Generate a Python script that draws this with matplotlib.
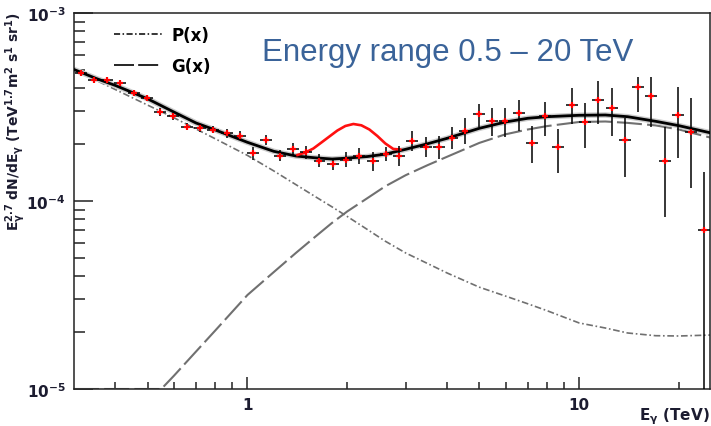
import numpy as np
import matplotlib.pyplot as plt
from matplotlib.lines import Line2D
from matplotlib.ticker import NullFormatter

plt.rcParams['font.family'] = 'DejaVu Sans'
plt.rcParams['mathtext.fontset'] = 'dejavusans'

# flux values are in units of 1e-4 TeV^1.7 m^-2 s^-1 sr^-1
UNIT = 1e-4

# measured spectrum points
energy = [0.314, 0.344, 0.378, 0.414, 0.454, 0.498, 0.546, 0.598, 0.656, 0.720,
          0.789, 0.865, 0.949, 1.040, 1.141, 1.251, 1.371, 1.504, 1.649, 1.808,
          1.982, 2.174, 2.383, 2.613, 2.866, 3.142, 3.445, 3.778, 4.143, 4.542,
          4.981, 5.461, 5.988, 6.566, 7.200, 7.895, 8.657, 9.493, 10.41, 11.41,
          12.52, 13.72, 15.05, 16.50, 18.09, 19.84, 21.75, 23.85]
flux = [4.78, 4.39, 4.38, 4.23, 3.74, 3.55, 2.96, 2.82, 2.49, 2.45,
        2.40, 2.30, 2.23, 1.79, 2.11, 1.74, 1.89, 1.82, 1.64, 1.57,
        1.66, 1.74, 1.63, 1.78, 1.74, 2.09, 1.94, 1.93, 2.16, 2.37,
        2.89, 2.67, 2.66, 2.93, 2.03, 2.83, 1.93, 3.26, 2.63, 3.43,
        3.12, 2.10, 4.04, 3.64, 1.64, 2.87, 2.34, 0.70]
flux_lo = [4.64, 4.26, 4.25, 4.10, 3.63, 3.44, 2.82, 2.70, 2.39, 2.33,
           2.29, 2.17, 2.10, 1.66, 1.98, 1.63, 1.76, 1.68, 1.51, 1.46,
           1.51, 1.58, 1.45, 1.63, 1.54, 1.85, 1.72, 1.68, 1.89, 2.02,
           2.48, 2.22, 2.19, 2.35, 1.59, 2.22, 1.41, 2.57, 1.91, 2.56,
           2.21, 1.34, 2.98, 2.48, 0.826, 1.70, 1.17, 0.01]
flux_hi = [4.93, 4.53, 4.52, 4.36, 3.86, 3.66, 3.11, 2.94, 2.60, 2.57,
           2.52, 2.43, 2.37, 1.93, 2.25, 1.86, 2.03, 1.97, 1.77, 1.69,
           1.82, 1.92, 1.83, 1.94, 1.97, 2.36, 2.20, 2.22, 2.48, 2.78,
           3.28, 3.13, 3.12, 3.44, 2.50, 3.36, 2.42, 3.99, 3.32, 4.33,
           3.99, 2.75, 4.57, 4.56, 2.49, 4.05, 3.52, 1.43]

# fitted components
curve_e = [0.3, 0.35, 0.4, 0.5, 0.6, 0.7, 0.8, 1.0, 1.2, 1.4, 1.6, 1.8, 2.0, 2.3,
           2.6, 3.0, 3.5, 4.0, 5.0, 6.0, 7.0, 8.0, 10.0, 12.0, 14.0, 17.0, 20.0, 25.0]
total_fit = [5.006, 4.483, 4.116, 3.497, 2.974, 2.599, 2.387, 2.052, 1.838, 1.735,
             1.697, 1.672, 1.691, 1.724, 1.774, 1.884, 2.018, 2.155, 2.436, 2.632,
             2.754, 2.808, 2.857, 2.867, 2.808, 2.654, 2.515, 2.300]
p_fit = [4.993, 4.380, 3.914, 3.237, 2.774, 2.415, 2.142, 1.748, 1.446, 1.222,
         1.056, 0.930, 0.827, 0.705, 0.612, 0.529, 0.464, 0.414, 0.348, 0.312,
         0.284, 0.261, 0.2245, 0.211, 0.1986, 0.1921, 0.1914, 0.1937]

g_e = [0.3, 0.4, 0.5, 0.55, 0.6, 0.7, 0.8, 1.0, 1.2, 1.4, 1.6, 1.8, 2.0, 2.3,
       2.6, 3.0, 3.5, 4.0, 5.0, 6.0, 7.0, 8.0, 10.0, 12.0, 14.0, 17.0, 20.0, 25.0]
g_fit = [0.1, 0.1, 0.1, 0.1, 0.1175, 0.1583, 0.2048, 0.3162, 0.4184, 0.5295,
         0.645, 0.7656, 0.8805, 1.036, 1.196, 1.372, 1.554, 1.72, 2.037, 2.264,
         2.401, 2.503, 2.632, 2.648, 2.603, 2.524, 2.401, 2.169]

# fit with an extra line feature near 2 TeV
bump_e = [1.415, 1.495, 1.580, 1.671, 1.766, 1.867, 1.973, 2.086, 2.205, 2.331,
          2.464, 2.604, 2.753, 2.889]
bump_fit = [1.757, 1.811, 1.902, 2.047, 2.203, 2.371, 2.506, 2.568, 2.527, 2.401,
            2.217, 2.023, 1.891, 1.879]

e = np.array(energy)
f = np.array(flux) * UNIT
f_lo = np.array(flux_lo) * UNIT
f_hi = np.array(flux_hi) * UNIT
half_bin = 0.018  # decades
xerr = [e * (1 - 10 ** -half_bin), e * (10 ** half_bin - 1)]

fig = plt.figure(figsize=(7.11, 4.27), dpi=100)
ax = fig.add_axes([74 / 711, 1 - 390 / 427, 636 / 711, 376 / 427])
ax.set_xscale('log')
ax.set_yscale('log')

ax.plot(curve_e, np.array(p_fit) * UNIT, color='#707070', lw=1.2,
        linestyle=(0, (4, 1.6, 1, 1.6)), zorder=2)
ax.plot(g_e, np.array(g_fit) * UNIT, color='#707070', lw=1.5,
        linestyle=(0, (12, 2.5)), zorder=2)
ax.plot(curve_e, np.array(total_fit) * UNIT, color='#cccccc', lw=4.0, zorder=2)
ax.plot(curve_e, np.array(total_fit) * UNIT, color='black', lw=2.0, zorder=3)
ax.plot(bump_e, np.array(bump_fit) * UNIT, color='#ff1010', lw=1.9, zorder=3)

ax.errorbar(e, f, yerr=[f - f_lo, f_hi - f], xerr=xerr, fmt='none',
            ecolor='black', elinewidth=1.1, capsize=0, zorder=4)
ax.plot(e, f, '+', color='red', ms=5, mew=1.6, zorder=5)

ax.set_xlim(0.3, 24.8)
ax.set_ylim(1e-5, 1e-3)

label_color = '#1c1c30'
tick_color = '#222222'
ax.set_xticks([1, 10])
ax.set_xticklabels(['1', '10'], fontsize=11, fontweight='bold', color=label_color)
ax.set_xticks([0.4, 0.5, 0.6, 0.7, 0.8, 0.9, 2, 3, 4, 5, 6, 7, 8, 9, 20], minor=True)
ax.xaxis.set_minor_formatter(NullFormatter())
ax.set_yticks([1e-5, 1e-4, 1e-3])
ax.set_yticklabels([r'$\mathbf{10^{-5}}$', r'$\mathbf{10^{-4}}$', r'$\mathbf{10^{-3}}$'],
                   fontsize=11, color=label_color)
ax.set_yticks([k * 10.0 ** p for p in (-5, -4) for k in range(2, 10)], minor=True)
ax.yaxis.set_minor_formatter(NullFormatter())

ax.tick_params(axis='x', which='major', direction='in', length=8.5, width=1.1, pad=6,
               color=tick_color)
ax.tick_params(axis='x', which='minor', direction='in', length=5, width=1.1, color=tick_color)
ax.tick_params(axis='y', which='major', direction='in', length=13.5, width=1.1, pad=6,
               color=tick_color)
ax.tick_params(axis='y', which='minor', direction='in', length=8, width=1.1, left=True,
               color=tick_color)
for side in ax.spines.values():
    side.set_linewidth(1.1)
    side.set_color(tick_color)

fig.text(710 / 711, 1 - 417 / 427, r'$\mathbf{E_{\gamma}}$ (TeV)', ha='right', va='center',
         fontsize=11, fontweight='bold', color=label_color)
fig.text(16 / 711, 1 - 12 / 427,
         r'$\mathbf{E_{\gamma}^{2.7}\ dN/dE_{\gamma}\ (TeV^{1.7}m^{2}\ s^{1}\ sr^{1})}$',
         rotation=90, ha='center', va='top', fontsize=10, color=label_color)

handles = [Line2D([], [], color='black', lw=1.1, linestyle=(0, (4, 1.6, 1, 1.6))),
           Line2D([], [], color='black', lw=1.2, linestyle=(0, (12, 2.5)))]
ax.legend(handles, ['P(x)', 'G(x)'], loc='upper left', bbox_to_anchor=(0.063, 0.965),
          frameon=False, handlelength=2.9, handletextpad=0.55, labelspacing=0.75,
          borderpad=0, borderaxespad=0, prop={'weight': 'bold', 'size': 12})

fig.text(262 / 711, 1 - 61 / 427, 'Energy range 0.5 \u2013 20 TeV', ha='left', va='baseline',
         fontsize=22.5, family='Liberation Sans', color='#3a6399')

fig.savefig('out.png', dpi=100)
